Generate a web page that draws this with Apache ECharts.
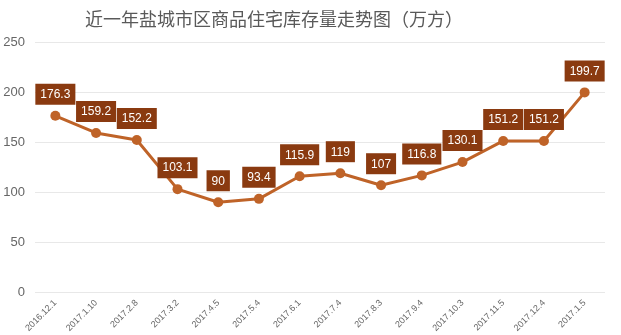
<!DOCTYPE html>
<html><head><meta charset="utf-8">
<script src="https://cdn.jsdelivr.net/npm/echarts@6/dist/echarts.min.js"></script>
<style>html,body{margin:0;padding:0;background:#fff}#c{width:621px;height:335px}</style>
</head><body><div id="c"></div>
<script>
const categories = ['2016.12.1','2017.1.10','2017.2.8','2017.3.2','2017.4.5','2017.5.4','2017.6.1','2017.7.4','2017.8.3','2017.9.4','2017.10.3','2017.11.5','2017.12.4','2017.1.5'];
const values = [176.3,159.2,152.2,103.1,90,93.4,115.9,119,107,116.8,130.1,151.2,151.2,199.7];
const yTicks = {min:0,max:250,interval:50};
const titleText = '近一年盐城市区商品住宅库存量走势图（万方）';
const chart = echarts.init(document.getElementById('c'));
chart.setOption({
  animation:false,
  title:{text:titleText,left:80,top:5,textStyle:{fontSize:18,fontWeight:'normal',color:'#595959',fontFamily:'"Noto Sans CJK SC","Microsoft YaHei",sans-serif'}},
  grid:{left:35,right:16,top:42,bottom:35},
  xAxis:{type:'category',data:categories,boundaryGap:true,
    axisLine:{show:false},axisTick:{show:false},
    axisLabel:{interval:0,rotate:45,fontSize:9,color:'#666',margin:9}},
  yAxis:{type:'value',min:yTicks.min,max:yTicks.max,interval:yTicks.interval,
    axisLine:{show:false},axisTick:{show:false},
    splitLine:{lineStyle:{color:'#e8e8e8'}},
    axisLabel:{fontSize:13,color:'#666',margin:10}},
  series:[{type:'line',data:values,symbol:'circle',symbolSize:10,
    lineStyle:{color:'#BF6328',width:3},itemStyle:{color:'#BF6328'},
    label:{show:true,position:'top',distance:6,color:'#fff',fontSize:12,
      backgroundColor:'#8A3A10',padding:[5,5,4,5]}}]
});
</script></body></html>
